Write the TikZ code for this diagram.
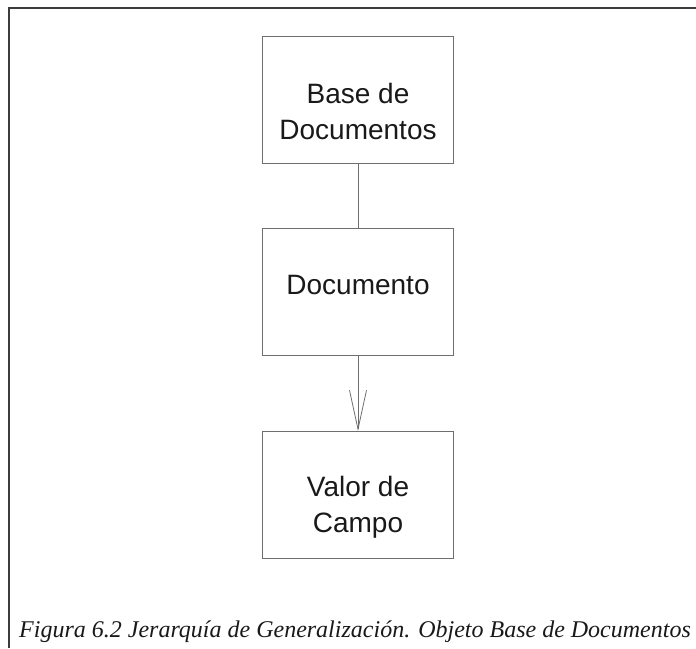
\documentclass[tikz,border=0pt]{standalone}
\usepackage{fontspec}
\usepackage{xcolor}
\usetikzlibrary{arrows.meta}
\setmainfont{Liberation Sans}
\newfontfamily\captionserif{Liberation Serif}
\definecolor{boxgray}{RGB}{110, 110, 110}
\definecolor{framegray}{RGB}{60, 60, 60}
\definecolor{textblack}{RGB}{25, 25, 25}

\begin{document}
\begin{tikzpicture}[
        x=1pt, y=-1pt,
        classbox/.style={rectangle, draw=boxgray, line width=0.8pt, minimum width=191pt, minimum height=127pt, align=center, text=textblack, font=\fontsize{28}{36}\selectfont},
        link/.style={draw=boxgray, line width=0.8pt},
        generalization/.style={link, -{Straight Barb[length=39pt, width=17pt, line width=0.8pt]}}
    ]
    \useasboundingbox (0, 0) rectangle (696, 648);

    % Frame
    \draw[framegray, line width=2.2pt] (9, 648) -- (9, 8) -- (696, 8);

    % Classes
    \node[classbox, text height=80pt] (basedocs) at (358, 99.5) {Base de\\Documentos};
    \node[classbox, text depth=14pt] (documento) at (358, 292) {Documento};
    \node[classbox, text height=80pt] (valorcampo) at (358, 495) {Valor de\\Campo};

    % Hierarchy
    \draw[link] (basedocs) -- (documento);
    \draw[generalization] (documento) -- (valorcampo);

    % Caption
    \node[anchor=base west, inner sep=0pt, text=textblack, font=\captionserif\itshape\fontsize{24}{28}\selectfont] (caption) at (19, 637) {Figura 6.2 Jerarquía de Generalización. Objeto Base de Documentos};
\end{tikzpicture}
\end{document}
